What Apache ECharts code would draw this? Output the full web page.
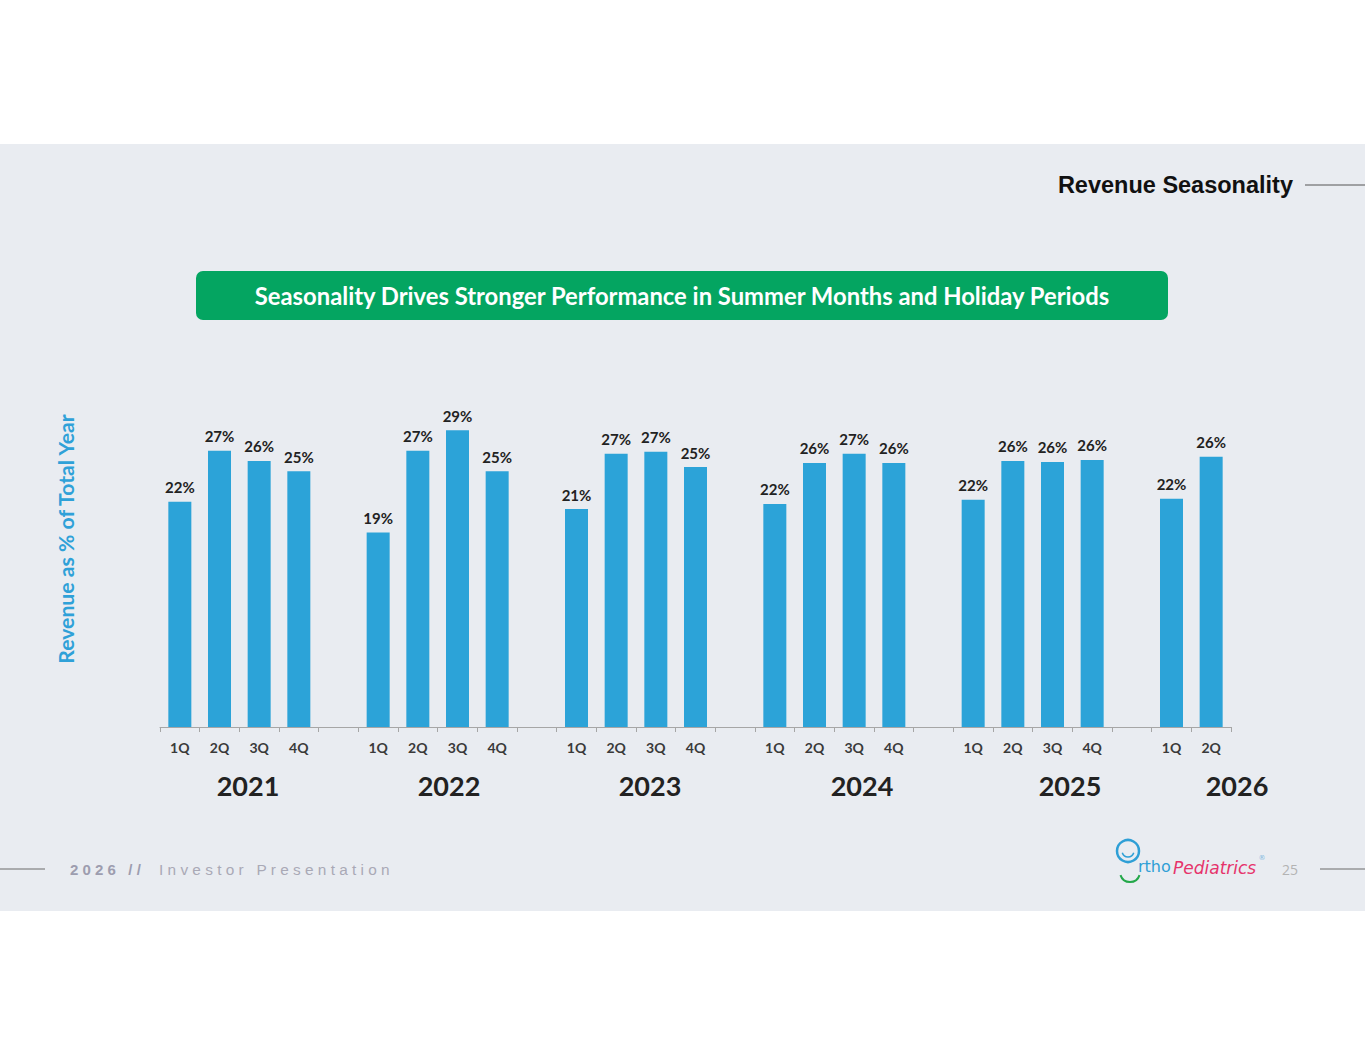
<!DOCTYPE html>
<html>
<head>
<meta charset="utf-8">
<title>Revenue Seasonality</title>
<script src="https://cdn.jsdelivr.net/npm/echarts@6/dist/echarts.min.js"></script>
<style>
  html, body { margin: 0; padding: 0; background: #ffffff; }
  #main { width: 1365px; height: 1055px; }
</style>
</head>
<body>
<div id="main"></div>
<script>
// quarter share of full-year revenue
var quarterNames = ['1Q', '2Q', '3Q', '4Q'];
var yearNames = ['2021', '2022', '2023', '2024', '2025', '2026'];
var share2021 = [22.0, 27.0, 26.0, 25.0];
var share2022 = [19.0, 27.0, 29.0, 25.0];
var share2023 = [21.3, 26.7, 26.9, 25.4];
var share2024 = [21.8, 25.8, 26.7, 25.8];
var share2025 = [22.2, 26.0, 25.9, 26.1];
var share2026 = [22.3, 26.4];
var yearShares = [share2021, share2022, share2023, share2024, share2025, share2026];

// layout only: centre of each year caption
var yearLabelX = [248, 449, 650, 862, 1070, 1237];

var categories = [], values = [];
for (var i = 0; i < yearShares.length; i++) {
    for (var q = 0; q < yearShares[i].length; q++) {
        categories.push(quarterNames[q]);
        values.push(yearShares[i][q]);
    }
    if (i < yearShares.length - 1) { // empty slot between years
        categories.push('');
        values.push('-');
    }
}

var calibriLike = 'Lato, "Open Sans", sans-serif';

var graphics = [
    // slide band
    { type: 'rect', z: -10, shape: { x: 0, y: 144, width: 1365, height: 767 }, style: { fill: '#e9ecf1' } },
    // header
    { type: 'text', style: { x: 1293, y: 185, text: 'Revenue Seasonality', align: 'right', verticalAlign: 'middle',
        font: 'bold 23.5px "Liberation Sans", Arial, sans-serif', fill: '#111111' } },
    { type: 'line', shape: { x1: 1305, y1: 185, x2: 1365, y2: 185 }, style: { stroke: '#555555', lineWidth: 1 } },
    // green banner
    { type: 'rect', shape: { x: 196, y: 271, width: 972, height: 49, r: 7 }, style: { fill: '#04a561' } },
    { type: 'text', style: { x: 682, y: 296, text: 'Seasonality Drives Stronger Performance in Summer Months and Holiday Periods',
        align: 'center', verticalAlign: 'middle', font: 'bold 23.8px ' + calibriLike, fill: '#ffffff' } },
    // axis title
    { type: 'text', x: 66, y: 539, rotation: Math.PI / 2, style: { x: 0, y: 0, text: 'Revenue as % of Total Year',
        align: 'center', verticalAlign: 'middle', font: 'bold 21.2px ' + calibriLike, fill: '#2fa1d8' } },
    // footer
    { type: 'line', shape: { x1: 0, y1: 869, x2: 45, y2: 869 }, style: { stroke: '#6b6b6b', lineWidth: 1 } },
    { type: 'text', style: { x: 70, y: 869, text: '2 0 2 6   / /', verticalAlign: 'middle',
        font: 'bold 15px "Liberation Sans", Arial, sans-serif', fill: '#9d9daf' } },
    { type: 'text', style: { x: 159, y: 869, text: 'I n v e s t o r   P r e s e n t a t i o n', verticalAlign: 'middle',
        font: '15.4px "Liberation Sans", Arial, sans-serif', fill: '#a9a9b6' } },
    // logo (approximation)
    { type: 'circle', shape: { cx: 1128, cy: 851, r: 11 }, style: { fill: 'none', stroke: '#2e9fd6', lineWidth: 2.5 } },
    { type: 'arc', shape: { cx: 1128, cy: 851, r: 6, startAngle: 0.3, endAngle: Math.PI - 0.3 }, style: { fill: 'none', stroke: '#2e9fd6', lineWidth: 1.5 } },
    { type: 'arc', shape: { cx: 1130, cy: 872, r: 10, startAngle: Math.PI * 0.1, endAngle: Math.PI * 0.9 }, style: { fill: 'none', stroke: '#24a84a', lineWidth: 2 } },
    { type: 'text', style: { x: 1138, y: 874, text: 'rtho', verticalAlign: 'bottom',
        font: '16px "DejaVu Sans", sans-serif', fill: '#2e9fd6' } },
    { type: 'text', style: { x: 1173, y: 876, text: 'Pediatrics', verticalAlign: 'bottom',
        font: 'italic 17px "DejaVu Sans", sans-serif', fill: '#e6336b' } },
    { type: 'text', style: { x: 1262, y: 858, text: '®', align: 'center', verticalAlign: 'middle',
        font: '7px "DejaVu Sans", sans-serif', fill: '#7fb8df' } },
    { type: 'text', style: { x: 1290, y: 869, text: '25', align: 'center', verticalAlign: 'middle',
        font: '14px "Open Sans", sans-serif', fill: '#b3b3b3' } },
    { type: 'line', shape: { x1: 1320, y1: 869, x2: 1365, y2: 869 }, style: { stroke: '#6b6b6b', lineWidth: 1 } }
];

for (var k = 0; k < yearNames.length; k++) {
    graphics.push({ type: 'text', style: { x: yearLabelX[k], y: 785, text: yearNames[k], align: 'center',
        verticalAlign: 'middle', font: 'bold 27px ' + calibriLike, fill: '#222222' } });
}

var myChart = echarts.init(document.getElementById('main'), null, { renderer: 'svg' });
var option = {
    backgroundColor: '#ffffff',
    animation: false,
    grid: { left: 160, right: 134, top: 420, bottom: 328 },
    xAxis: {
        type: 'category',
        data: categories,
        axisLine: { lineStyle: { color: '#a6a6a6', width: 1 } },
        axisTick: { show: true, length: 5, lineStyle: { color: '#a6a6a6' } },
        axisLabel: { interval: 0, margin: 13, fontFamily: calibriLike, fontWeight: 'bold', fontSize: 14, color: '#3a3a3a' }
    },
    yAxis: {
        type: 'value',
        min: 0,
        max: 30,
        show: false
    },
    series: [{
        type: 'bar',
        data: values,
        barWidth: 23,
        itemStyle: { color: '#2ca3d8' },
        label: {
            show: true,
            position: 'top',
            distance: 7,
            fontFamily: calibriLike,
            fontWeight: 'bold',
            fontSize: 15,
            color: '#222222',
            formatter: function (p) { return Math.round(p.value) + '%'; }
        }
    }],
    graphic: graphics
};
myChart.setOption(option);
</script>
</body>
</html>
